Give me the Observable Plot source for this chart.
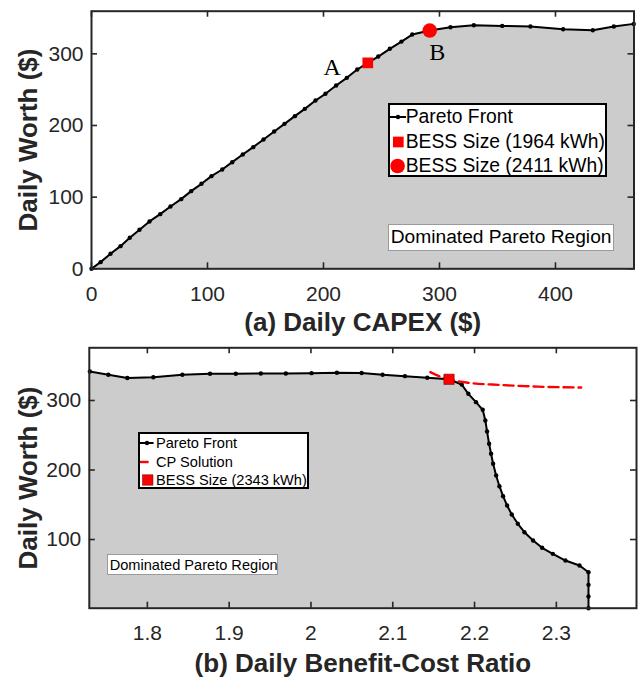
<!DOCTYPE html>
<html><head><meta charset="utf-8">
<script src="https://cdn.jsdelivr.net/npm/d3@7"></script>
<script src="https://cdn.jsdelivr.net/npm/@observablehq/plot@0.6"></script>
<style>
body{margin:0;background:#fff;}
#wrap{position:relative;width:639px;height:678px;font-family:"Liberation Sans",Arial,Helvetica,sans-serif;overflow:hidden;}
#wrap svg{display:block;}
.leg{position:absolute;background:#fff;border:2px solid #000;box-sizing:border-box;}
.row{position:absolute;left:0;display:flex;align-items:center;white-space:nowrap;color:#000;}
.row svg{display:block;flex:none;}
.region{position:absolute;background:#fff;border:1px solid #9a9a9a;box-sizing:border-box;color:#000;white-space:nowrap;display:flex;align-items:center;}
</style></head><body><div id="wrap"></div>
<script>
// ---------- (a) Daily CAPEX vs Daily Worth ----------
const capexA = [0, 7.8, 16.4, 25.0, 33.0, 41.4, 50.0, 59.2, 68.1, 77.3, 85.9, 94.8, 103.4, 112.7, 121.3, 130.4, 139.4, 148.3, 157.5, 166.4, 175.3, 183.9, 193.1, 201.7, 210.9, 220.1, 229.1, 238.2, 247.2, 257.2, 267.2, 276.5, 291.6, 309.5, 329.6, 354.1, 378.4, 406.6, 432.2, 450.3, 467.5];
const worthA = [0, 9.3, 20.9, 31.6, 43.3, 54.4, 66.1, 76.3, 87.0, 97.2, 108.4, 118.6, 129.3, 138.6, 148.8, 159.5, 169.8, 180.5, 191.6, 202.3, 213.0, 223.2, 234.9, 244.2, 255.8, 266.5, 278.1, 287.4, 296.2, 307.0, 317.1, 326.9, 332.5, 337.1, 339.9, 339.0, 338.1, 334.3, 332.9, 338.1, 341.8];
const pointLabels = ["A", "B"];
const pointCapex = [238.2, 291.6];
const pointWorth = [287.4, 332.5];
const xTicksA = [0, 100, 200, 300, 400];
const yTicksA = [0, 100, 200, 300];
const legendA = ["Pareto Front", "BESS Size (1964 kWh)", "BESS Size (2411 kWh)"];

// ---------- (b) Benefit-Cost Ratio vs Daily Worth ----------
const bcrB = [1.7297, 1.7523, 1.7755, 1.8073, 1.8428, 1.8766, 1.9081, 1.9387, 1.9693, 2.0007, 2.0317, 2.0619, 2.0876, 2.1149, 2.1422, 2.1688, 2.1843, 2.1924, 2.2018, 2.2100, 2.2132, 2.2153, 2.2178, 2.2202, 2.2227, 2.2264, 2.2304, 2.2349, 2.2398, 2.2455, 2.2529, 2.2610, 2.2716, 2.2826, 2.2957, 2.3111, 2.3283, 2.3393, 2.3393, 2.3393, 2.3393];
const worthB = [341.7, 337.0, 332.4, 333.5, 337.0, 338.4, 338.4, 338.8, 338.8, 339.3, 339.9, 339.6, 337.0, 335.0, 332.8, 330.5, 323.0, 309.6, 297.6, 286.6, 271.2, 255.4, 237.7, 223.3, 208.9, 192.1, 176.7, 162.3, 148.9, 135.9, 122.6, 110.5, 98.6, 88.1, 79.4, 69.8, 62.6, 52.9, 34.8, 18.0, 1.2];
const cpBcr = [2.1459, 2.1566, 2.1688, 2.1917, 2.2324, 2.2774, 2.3303];
const cpWorth = [340.7, 335.0, 330.5, 325.6, 322.3, 319.9, 318.7];
const bessBcr = [2.1688];
const bessWorth = [330.5];
const xTicksB = [1.8, 1.9, 2, 2.1, 2.2, 2.3];
const yTicksB = [100, 200, 300];
const legendB = ["Pareto Front", "CP Solution", "BESS Size (2343 kWh)"];

const FONT = "'Liberation Sans', Arial, Helvetica, sans-serif";
const INK = "#262626";
const GREY = "#cccccc";
const RED = "#ff0000";
const wrap = document.getElementById("wrap");

function boxTicks(xt, yt, innerW, innerH) {
  const L = 6;
  return [
    Plot.tickX(xt, {x: d => d, insetTop: innerH - L, stroke: INK, strokeWidth: 1.6}),
    Plot.tickX(xt, {x: d => d, insetBottom: innerH - L, stroke: INK, strokeWidth: 1.6}),
    Plot.tickY(yt, {y: d => d, insetRight: innerW - L, stroke: INK, strokeWidth: 1.6}),
    Plot.tickY(yt, {y: d => d, insetLeft: innerW - L, stroke: INK, strokeWidth: 1.6})
  ];
}

// ----- top chart -----
const WA = 639, HA = 335, mlA = 91, mrA = 5.5, mtA = 10.7, mbA = 66.7;
const frontA = capexA.map((x, i) => ({x, y: worthA[i]}));
const ptsA = pointLabels.map((l, i) => ({label: l, x: pointCapex[i], y: pointWorth[i]}));
const chartA = Plot.plot({
  width: WA, height: HA,
  marginLeft: mlA, marginRight: mrA, marginTop: mtA, marginBottom: mbA,
  x: {domain: [0, 467.7]},
  y: {domain: [0, 359.5]},
  style: {fontFamily: FONT, color: INK, background: "transparent", overflow: "visible"},
  marks: [
    Plot.areaY(frontA, {x: "x", y: "y", fill: GREY}),
    Plot.line(frontA, {x: "x", y: "y", stroke: "#000", strokeWidth: 2}),
    Plot.dot(frontA, {x: "x", y: "y", r: 2.2, fill: "#000", stroke: "none"}),
    Plot.dot([ptsA[0]], {x: "x", y: "y", symbol: "square", r: 6.04, fill: RED, stroke: "none"}),
    Plot.dot([ptsA[1]], {x: "x", y: "y", symbol: "circle", r: 7.3, fill: RED, stroke: "none"}),
    Plot.text([ptsA[0]], {x: "x", y: "y", text: "label", dx: -35.6, dy: 4.4, fontFamily: "'Liberation Serif', 'Times New Roman', serif", fontSize: 24, fill: "#000"}),
    Plot.text([ptsA[1]], {x: "x", y: "y", text: "label", dx: 7.4, dy: 21.7, fontFamily: "'Liberation Serif', 'Times New Roman', serif", fontSize: 24, fill: "#000"}),
    ...boxTicks(xTicksA, yTicksA, WA - mlA - mrA, HA - mtA - mbA),
    Plot.axisX({ticks: xTicksA, tickSize: 0, tickPadding: 17, fontSize: 21, label: null, tickFormat: d => String(d)}),
    Plot.axisY({ticks: yTicksA, tickSize: 0, tickPadding: 8, fontSize: 21, label: null, tickFormat: d => String(d)}),
    Plot.text(["(a) Daily CAPEX ($)"], {frameAnchor: "bottom", lineAnchor: "bottom", dy: 61.7, fontSize: 26, fontWeight: "bold", fill: INK}),
    Plot.text(["Daily Worth ($)"], {frameAnchor: "left", textAnchor: "middle", lineAnchor: "bottom", rotate: -90, dx: -55, fontSize: 26, fontWeight: "bold", fill: INK}),
    Plot.frame({stroke: INK, strokeWidth: 2})
  ]
});
wrap.appendChild(chartA);

// ----- bottom chart -----
const WB = 639, HB = 343, mlB = 88.8, mrB = 3, mtB = 12.3, mbB = 70.3;
const yDomB = [1.2, 375.8];
const frontB = bcrB.map((x, i) => ({x, y: worthB[i]}));
const cp = cpBcr.map((x, i) => ({x, y: cpWorth[i]}));
const bess = bessBcr.map((x, i) => ({x, y: bessWorth[i]}));
const chartB = Plot.plot({
  width: WB, height: HB,
  marginLeft: mlB, marginRight: mrB, marginTop: mtB, marginBottom: mbB,
  x: {domain: [1.729, 2.398]},
  y: {domain: yDomB},
  style: {fontFamily: FONT, color: INK, background: "transparent", overflow: "visible"},
  marks: [
    Plot.areaY(frontB, {x: "x", y1: yDomB[0], y2: "y", fill: GREY}),
    Plot.line(frontB, {x: "x", y: "y", stroke: "#000", strokeWidth: 2}),
    Plot.dot(frontB, {x: "x", y: "y", r: 2.2, fill: "#000", stroke: "none"}),
    Plot.line(cp, {x: "x", y: "y", stroke: RED, strokeWidth: 2.4, strokeDasharray: "10,5", curve: "monotone-x"}),
    Plot.dot(bess, {x: "x", y: "y", symbol: "square", r: 5.8, fill: RED, stroke: "#7a0000", strokeWidth: 0.6}),
    ...boxTicks(xTicksB, yTicksB, WB - mlB - mrB, HB - mtB - mbB),
    Plot.axisX({ticks: xTicksB, tickSize: 0, tickPadding: 17, fontSize: 21, label: null, tickFormat: d => String(d)}),
    Plot.axisY({ticks: yTicksB, tickSize: 0, tickPadding: 8, fontSize: 21, label: null, tickFormat: d => String(d)}),
    Plot.text(["(b) Daily Benefit-Cost Ratio"], {frameAnchor: "bottom", lineAnchor: "bottom", dy: 63.5, fontSize: 26, fontWeight: "bold", fill: INK}),
    Plot.text(["Daily Worth ($)"], {frameAnchor: "left", textAnchor: "middle", lineAnchor: "bottom", rotate: -90, dx: -52.8, fontSize: 26, fontWeight: "bold", fill: INK}),
    Plot.frame({stroke: INK, strokeWidth: 2})
  ]
});
wrap.appendChild(chartB);

// ----- legends and annotation boxes (HTML overlays) -----
function icon(kind, w, h, opts) {
  const s = opts.size;
  let inner = "";
  if (kind === "line") inner = `<line x1="0" x2="${opts.len}" y1="${h/2}" y2="${h/2}" stroke="#000" stroke-width="2"/><circle cx="${opts.c}" cy="${h/2}" r="2.2" fill="#000"/>`;
  if (kind === "redline") inner = `<line x1="0" x2="${opts.len}" y1="${h/2}" y2="${h/2}" stroke="${RED}" stroke-width="2.4"/>`;
  if (kind === "square") inner = `<rect x="${opts.c - s/2}" y="${h/2 - s/2}" width="${s}" height="${s}" fill="${RED}" ${opts.edge ? 'stroke="#7a0000" stroke-width="0.6"' : ''}/>`;
  if (kind === "circle") inner = `<circle cx="${opts.c}" cy="${h/2}" r="${s/2}" fill="${RED}"/>`;
  return `<svg width="${w}" height="${h}" viewBox="0 0 ${w} ${h}" style="overflow:visible">${inner}</svg>`;
}
function legend(left, top, width, height, fontSize, rows) {
  const d = document.createElement("div");
  d.className = "leg";
  Object.assign(d.style, {left: left + "px", top: top + "px", width: width + "px", height: height + "px", fontSize: fontSize + "px"});
  d.innerHTML = rows.map(r => `<div class="row" style="top:${r.cy - 2 - r.h/2}px;height:${r.h}px;">${r.icon}<span>${r.text}</span></div>`).join("");
  wrap.appendChild(d);
}
function region(left, top, width, height, fontSize, text) {
  const d = document.createElement("div");
  d.className = "region";
  Object.assign(d.style, {left: left + "px", top: top + "px", width: width + "px", height: height + "px", fontSize: fontSize + "px", paddingLeft: "2px"});
  d.textContent = text;
  wrap.appendChild(d);
}
legend(387.7, 102.7, 219, 74, 19.3, [
  {cy: 14.6, h: 20, text: legendA[0], icon: icon("line", 16, 20, {len: 16, c: 8})},
  {cy: 39.0, h: 20, text: legendA[1], icon: icon("square", 16, 20, {c: 8.3, size: 10.7})},
  {cy: 63.0, h: 20, text: legendA[2], icon: icon("circle", 16, 20, {c: 7.6, size: 14.6})}
]);
region(387.7, 224, 226.3, 26.7, 19.2, "Dominated Pareto Region");
legend(137.7, 431.7, 171.6, 57.6, 14.6, [
  {cy: 11.6, h: 16, text: legendB[0], icon: icon("line", 16.3, 16, {len: 13.6, c: 7})},
  {cy: 30.0, h: 16, text: legendB[1], icon: icon("redline", 16.3, 16, {len: 8.6})},
  {cy: 48.3, h: 16, text: legendB[2], icon: icon("square", 16.3, 16, {c: 7.8, size: 10.3, edge: true})}
]);
region(106.7, 554.3, 171.6, 21, 14.6, "Dominated Pareto Region");
</script></body></html>
